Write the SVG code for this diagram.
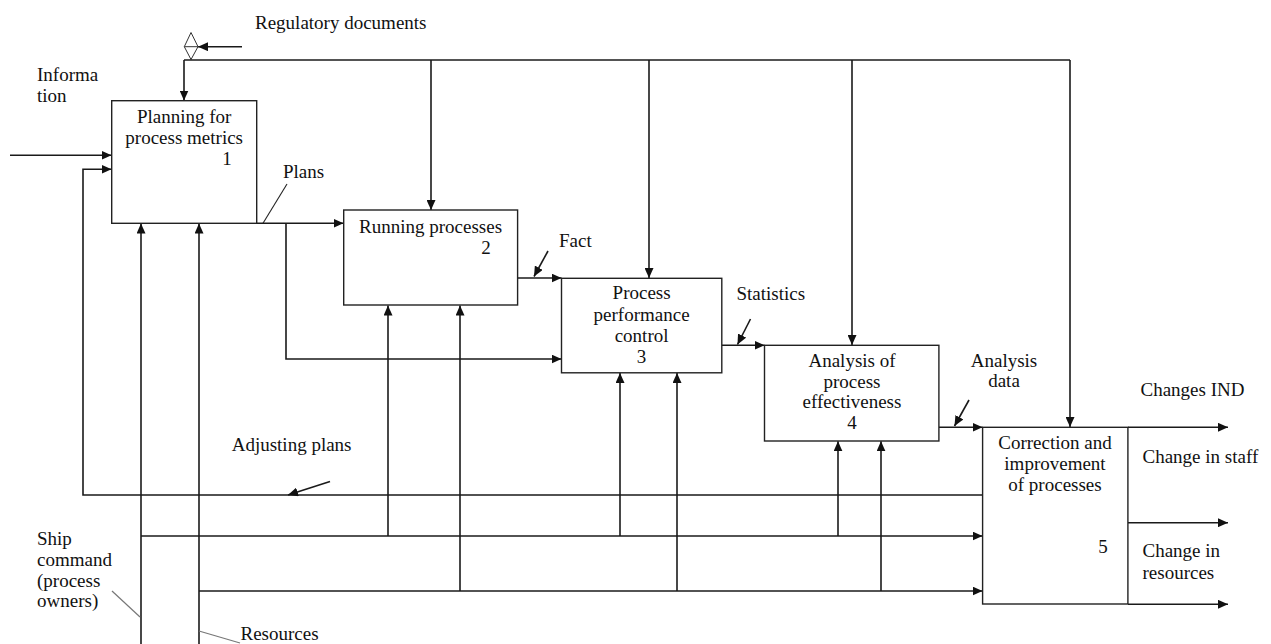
<svg xmlns="http://www.w3.org/2000/svg" width="1271" height="644" viewBox="0 0 1271 644">
<style>
text{font-family:"Liberation Serif","Times New Roman",serif;font-size:19px;fill:#111}
.c{text-anchor:middle}
.box{fill:#fff;stroke:#222;stroke-width:1.4}
.ln{fill:none;stroke:#1a1a1a;stroke-width:1.6}
.thin{fill:none;stroke:#222;stroke-width:1.1}
.gray{fill:none;stroke:#777;stroke-width:1.2}
</style>
<defs>
<marker id="ah" markerUnits="userSpaceOnUse" markerWidth="11" markerHeight="9" refX="10" refY="4.5" orient="auto">
<path d="M0,0 L10,4.5 L0,9 z" fill="#111"/>
</marker>
</defs>
<rect width="1271" height="644" fill="#fff"/>
<g id="connectors">
<line class="ln" x1="242" y1="46.7" x2="198" y2="46.7" marker-end="url(#ah)"/>
<polygon points="191,32.5 198,46.7 191,59.5 184.3,46.7" fill="#fff" stroke="#333" stroke-width="1"/>
<line x1="184.3" y1="46.7" x2="198" y2="46.7" stroke="#333" stroke-width="1"/>
<path class="ln" d="M184,60 H1070"/>
<path class="ln" d="M184,60 V100.5" marker-end="url(#ah)"/>
<path class="ln" d="M431,60 V210" marker-end="url(#ah)"/>
<path class="ln" d="M649,60 V278" marker-end="url(#ah)"/>
<path class="ln" d="M852,60 V345" marker-end="url(#ah)"/>
<path class="ln" d="M1070,60 V427" marker-end="url(#ah)"/>
<path class="ln" d="M10,155.3 H111.5" marker-end="url(#ah)"/>
<path class="ln" d="M982,495 H83 V169.3 H111.5" marker-end="url(#ah)"/>
<path class="ln" d="M330,481.5 L288,495" marker-end="url(#ah)"/>
<path class="ln" d="M257,223.3 H343.5" marker-end="url(#ah)"/>
<path class="ln" d="M286,223.3 V359 H561.5" marker-end="url(#ah)"/>
<path class="thin" d="M287,184 L263,223.3"/>
<path class="ln" d="M517.5,278 H561.5" marker-end="url(#ah)"/>
<path class="ln" d="M548,251 L534,276.5" marker-end="url(#ah)"/>
<path class="ln" d="M722,345.3 H764.5" marker-end="url(#ah)"/>
<path class="ln" d="M750.5,319 L737.5,344.5" marker-end="url(#ah)"/>
<path class="ln" d="M939,427.3 H982.5" marker-end="url(#ah)"/>
<path class="ln" d="M969,400 L954.5,426" marker-end="url(#ah)"/>
<path class="ln" d="M1128,427.3 H1228" marker-end="url(#ah)"/>
<path class="ln" d="M1128,522.7 H1228" marker-end="url(#ah)"/>
<path class="ln" d="M1128,604.3 H1228" marker-end="url(#ah)"/>
<path class="ln" d="M141,644 V223.5" marker-end="url(#ah)"/>
<path class="ln" d="M141,536 H982.5" marker-end="url(#ah)"/>
<path class="ln" d="M388,536 V305.5" marker-end="url(#ah)"/>
<path class="ln" d="M620,536 V373" marker-end="url(#ah)"/>
<path class="ln" d="M838,536 V441.3" marker-end="url(#ah)"/>
<path class="ln" d="M199,644 V223.5" marker-end="url(#ah)"/>
<path class="ln" d="M199,591 H982.5" marker-end="url(#ah)"/>
<path class="ln" d="M460,591 V305.5" marker-end="url(#ah)"/>
<path class="ln" d="M677,591 V373" marker-end="url(#ah)"/>
<path class="ln" d="M881,591 V441.3" marker-end="url(#ah)"/>
<path class="gray" d="M112,591 L140,617"/>
<path class="gray" d="M199,631 L240,643"/>
</g>
<g id="labels">
<text x="255" y="29.3">Regulatory documents</text>
<text x="37" y="81">Informa</text>
<text x="37" y="101.7">tion</text>
<text x="283" y="178">Plans</text>
<text x="559" y="246.7">Fact</text>
<text x="736.5" y="300">Statistics</text>
<text class="c" x="1004" y="366.7">Analysis</text>
<text class="c" x="1004" y="387.3">data</text>
<text x="1140.5" y="395.7">Changes IND</text>
<text x="1142.5" y="462.7">Change in staff</text>
<text x="1142.5" y="557.3">Change in</text>
<text x="1142.5" y="579.3">resources</text>
<text x="231.7" y="450.7">Adjusting plans</text>
<text x="37" y="545">Ship</text>
<text x="37" y="565.5">command</text>
<text x="37" y="586.5">(process</text>
<text x="37" y="607.3">owners)</text>
<text x="240.5" y="640">Resources</text>
</g>
<g id="node1">
<rect class="box" x="111.7" y="100.7" width="145" height="122.6"/>
<text class="c" x="184.2" y="123.3">Planning for</text>
<text class="c" x="184.2" y="144">process metrics</text>
<text class="c" x="227" y="165">1</text>
</g>
<g id="node2">
<rect class="box" x="343.7" y="210" width="173.9" height="95"/>
<text class="c" x="430.6" y="233">Running processes</text>
<text class="c" x="486" y="253.5">2</text>
</g>
<g id="node3">
<rect class="box" x="561.5" y="278.3" width="160.3" height="94.5"/>
<text class="c" x="641.6" y="299.3">Process</text>
<text class="c" x="641.6" y="320.7">performance</text>
<text class="c" x="641.6" y="341.7">control</text>
<text class="c" x="641.6" y="362.7">3</text>
</g>
<g id="node4">
<rect class="box" x="764.5" y="345.3" width="174.4" height="95.7"/>
<text class="c" x="852" y="367.3">Analysis of</text>
<text class="c" x="852" y="388.3">process</text>
<text class="c" x="852" y="408.3">effectiveness</text>
<text class="c" x="852" y="429.3">4</text>
</g>
<g id="node5">
<rect class="box" x="982.6" y="427.3" width="145.3" height="176.7"/>
<text class="c" x="1055" y="449.3">Correction and</text>
<text class="c" x="1055" y="470">improvement</text>
<text class="c" x="1055" y="490.7">of processes</text>
<text class="c" x="1103" y="553.3">5</text>
</g>
</svg>
